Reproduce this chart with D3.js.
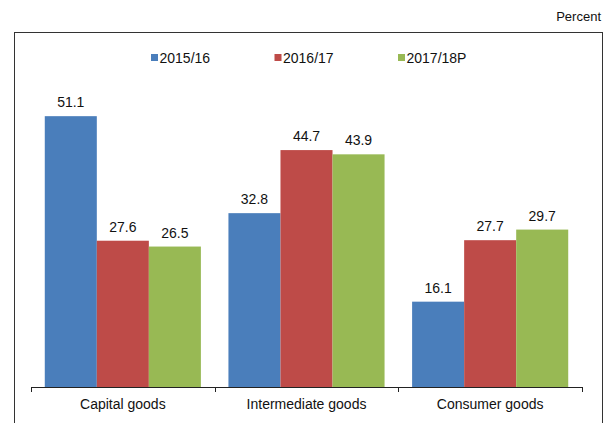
<!DOCTYPE html>
<html>
<head>
<meta charset="utf-8">
<script src="https://cdn.jsdelivr.net/npm/d3@7"></script>
<style>
  body { margin: 0; background: #fff; }
  text { font-family: "Liberation Sans", Arial, sans-serif; fill: #111; }
</style>
</head>
<body>
<div id="chart"></div>
<script>
// categories and series
var categories = ["Capital goods", "Intermediate goods", "Consumer goods"];
var seriesNames = ["2015/16", "2016/17", "2017/18P"];
var seriesColors = ["#4a7ebb", "#be4b48", "#98b954"];
var values2015 = [51.1, 32.8, 16.1];
var values2016 = [27.6, 44.7, 27.7];
var values2017 = [26.5, 43.9, 29.7];

var seriesValues = [values2015, values2016, values2017];

var width = 606, height = 423;

var svg = d3.select("#chart").append("svg")
    .attr("width", width)
    .attr("height", height);

// outer frame
svg.append("rect")
    .attr("x", 14.5)
    .attr("y", 32.5)
    .attr("width", 588)
    .attr("height", 400)
    .style("fill", "none")
    .style("stroke", "#333")
    .style("stroke-width", 1);

// unit label
svg.append("text")
    .attr("x", 601)
    .attr("y", 21)
    .attr("text-anchor", "end")
    .style("font-size", "13px")
    .text("Percent");

// scales
var x0 = d3.scaleBand()
    .domain(categories)
    .range([31, 582])
    .padding(0);

var bw = x0.bandwidth();
var x1 = d3.scaleBand()
    .domain(seriesNames)
    .range([bw * 0.075, bw * 0.925])
    .padding(0);

var y = d3.scaleLinear()
    .domain([0, 60])
    .range([387, 69]);

// build rows
var rows = [];
categories.forEach(function (c, i) {
    seriesNames.forEach(function (s, j) {
        rows.push({cat: c, series: s, value: seriesValues[j][i], color: seriesColors[j]});
    });
});

// bars
svg.selectAll(".bar")
    .data(rows)
    .enter().append("rect")
    .attr("class", "bar")
    .attr("x", function (d) { return x0(d.cat) + x1(d.series); })
    .attr("y", function (d) { return y(d.value); })
    .attr("width", x1.bandwidth())
    .attr("height", function (d) { return y(0) - y(d.value); })
    .style("fill", function (d) { return d.color; });

// value labels
svg.selectAll(".val")
    .data(rows)
    .enter().append("text")
    .attr("class", "val")
    .attr("x", function (d) { return x0(d.cat) + x1(d.series) + x1.bandwidth() / 2; })
    .attr("y", function (d) { return y(d.value) - 9; })
    .attr("text-anchor", "middle")
    .style("font-size", "14px")
    .text(function (d) { return d.value.toFixed(1); });

// x axis
var xAxis = svg.append("g")
    .attr("class", "x_axis")
    .attr("transform", "translate(0,387)");

xAxis.append("line")
    .attr("x1", 31).attr("x2", 582)
    .attr("y1", 0.5).attr("y2", 0.5)
    .style("stroke", "#222");

var tickPos = categories.map(function (c) { return x0(c); }).concat([582]);
xAxis.selectAll(".tick")
    .data(tickPos)
    .enter().append("line")
    .attr("class", "tick")
    .attr("x1", function (d) { return Math.round(d) + 0.5; })
    .attr("x2", function (d) { return Math.round(d) + 0.5; })
    .attr("y1", 0).attr("y2", 5)
    .style("stroke", "#222");

xAxis.selectAll(".cat_label")
    .data(categories)
    .enter().append("text")
    .attr("class", "cat_label")
    .attr("x", function (d) { return x0(d) + bw / 2; })
    .attr("y", 21.5)
    .attr("text-anchor", "middle")
    .style("font-size", "14px")
    .text(function (d) { return d; });

// legend
var legendX = [151, 274.5, 398];
var legend = svg.selectAll(".legend")
    .data(seriesNames)
    .enter().append("g")
    .attr("class", "legend")
    .attr("transform", function (d, i) { return "translate(" + legendX[i] + ",54)"; });

legend.append("rect")
    .attr("width", 7)
    .attr("height", 7)
    .style("fill", function (d, i) { return seriesColors[i]; });

legend.append("text")
    .attr("x", 8.5)
    .attr("y", 9)
    .style("font-size", "14px")
    .text(function (d) { return d; });
</script>
</body>
</html>
